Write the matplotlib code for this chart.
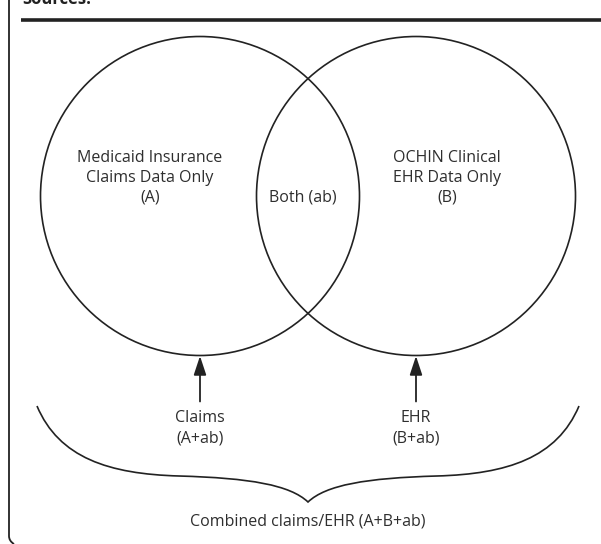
import matplotlib
matplotlib.use("Agg")
import matplotlib.pyplot as plt
from matplotlib.patches import Circle, PathPatch
from matplotlib.path import Path

plt.rcParams['font.family'] = ['Open Sans', 'DejaVu Sans']

# Content
set_labels = ["Medicaid Insurance\nClaims Data Only\n(A)", "OCHIN Clinical\nEHR Data Only\n(B)"]
overlap_label = "Both (ab)"
source_labels = ["Claims\n(A+ab)", "EHR\n(B+ab)"]
combined_label = "Combined claims/EHR (A+B+ab)"
header_label = "Sources:"

W, H = 601, 544
fig = plt.figure(figsize=(W / 100, H / 100), dpi=100)
ax = fig.add_axes([0, 0, 1, 1])
ax.set_xlim(0, W)
ax.set_ylim(H, 0)
ax.axis('off')

ink = '#222222'
txt = '#2e2e2e'
fs = 11.5

# header fragment and rule
ax.text(22, 4, header_label, fontsize=12, fontweight='bold', color=ink,
        ha='left', va='baseline')
ax.plot([21, 601], [19.5, 19.5], color=ink, lw=2.6, solid_capstyle='butt')

# left border with rounded corner
border = Path([(9, 0), (9, 536), (9, 541), (14, 544)],
              [Path.MOVETO, Path.LINETO, Path.CURVE3, Path.CURVE3])
ax.add_patch(PathPatch(border, fill=False, edgecolor=ink, lw=1.3))

# circles
centers = [(200, 196), (416, 196)]
r = 159.5
for (cx, cy) in centers:
    ax.add_patch(Circle((cx, cy), r, fill=False, edgecolor=ink, lw=1.2))

# labels in circles
ax.text(150, 178, set_labels[0], ha='center', va='center', fontsize=fs,
        color=txt, linespacing=1.3)
ax.text(447, 178, set_labels[1], ha='center', va='center', fontsize=fs,
        color=txt, linespacing=1.3)
ax.text(303, 197, overlap_label, ha='center', va='center', fontsize=fs, color=txt)

# arrows and source labels
for (cx, cy), lab in zip(centers, source_labels):
    ax.annotate('', xy=(cx, cy + r + 0.5), xytext=(cx, cy + r + 46),
                arrowprops=dict(arrowstyle='-|>,head_length=1.15,head_width=0.38',
                                color=ink, lw=1.3, shrinkA=0, shrinkB=0))
    ax.text(cx, 428.5, lab, ha='center', va='center', fontsize=fs, color=txt,
            linespacing=1.35)

# brace
mid = (centers[0][0] + centers[1][0]) / 2
half = 271
verts = [(mid - half, 406), (mid - half + 22, 458), (mid - half + 72, 474), (mid - half + 142, 476),
         (mid - 58, 478), (mid - 18, 485), (mid, 502),
         (mid + 18, 485), (mid + 58, 478), (mid + half - 142, 476),
         (mid + half - 72, 474), (mid + half - 22, 458), (mid + half, 406)]
codes = [Path.MOVETO] + [Path.CURVE4] * 12
ax.add_patch(PathPatch(Path(verts, codes), fill=False, edgecolor=ink, lw=1.2))

ax.text(mid, 522, combined_label, ha='center', va='center', fontsize=fs, color=txt)

fig.savefig('out.png', dpi=100)
